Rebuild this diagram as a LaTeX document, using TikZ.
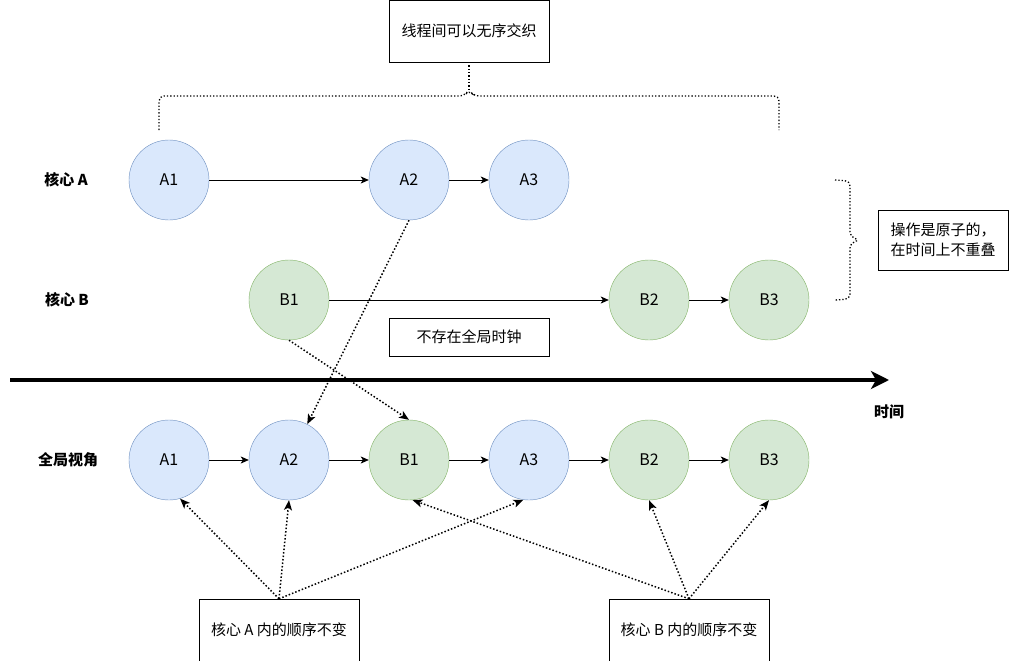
\documentclass[tikz,border=0pt]{standalone}
\usepackage{fontspec}
\setmainfont{Noto Sans CJK SC}
\usetikzlibrary{arrows.meta}
\definecolor{bfill}{HTML}{DAE8FC}
\definecolor{bline}{HTML}{6C8EBF}
\definecolor{gfill}{HTML}{D5E8D4}
\definecolor{gline}{HTML}{82B366}
\tikzset{
  circA/.style={circle, draw=bline, fill=bfill, minimum size=80pt, inner sep=0pt, font=\fontsize{16}{19}\selectfont},
  circB/.style={circle, draw=gline, fill=gfill, minimum size=80pt, inner sep=0pt, font=\fontsize{16}{19}\selectfont},
  tbox/.style={draw, rectangle, inner sep=0pt, font=\fontsize{15}{20}\selectfont, align=left},
  rowlabel/.style={font=\fontsize{15}{18}\selectfont\bfseries},
  seq/.style={-{Stealth[length=8pt,width=7pt,inset=2pt]}, line width=0.8pt},
  dotarrow/.style={dotted, line width=1.5pt, -{Stealth[length=10pt,width=8pt,inset=2.5pt]}},
  dotline/.style={dotted, line width=1.3pt}
}
\begin{document}
\begin{tikzpicture}[x=1pt,y=-1pt]
\useasboundingbox (0,0) rectangle (1010,661);
% top row
\node[circA] (tA1) at (169,180) {A1};
\node[circA] (tA2) at (409,180) {A2};
\node[circA] (tA3) at (529,180) {A3};
\node[circB] (tB1) at (289,300) {B1};
\node[circB] (tB2) at (649,300) {B2};
\node[circB] (tB3) at (769,300) {B3};
% bottom row
\node[circA] (gA1) at (169,460) {A1};
\node[circA] (gA2) at (289,460) {A2};
\node[circB] (gB1) at (409,460) {B1};
\node[circA] (gA3) at (529,460) {A3};
\node[circB] (gB2) at (649,460) {B2};
\node[circB] (gB3) at (769,460) {B3};
% labels
\node[rowlabel] (lA) at (66,180) {核心 A};
\node[rowlabel] (lB) at (67,300) {核心 B};
\node[rowlabel] (lG) at (68,460) {全局视角};
\node[rowlabel] (lT) at (889,412) {时间};
% boxes
\node[tbox, minimum width=160pt, minimum height=62pt] (top) at (469,31) {线程间可以无序交织};
\node[tbox, minimum width=160pt, minimum height=38pt] (clock) at (469,337) {不存在全局时钟};
\node[tbox, minimum width=130pt, minimum height=60pt] (atom) at (943,240) {操作是原子的，\\在时间上不重叠};
\node[tbox, minimum width=160pt, minimum height=62pt] (bA) at (279,630) {核心 A 内的顺序不变};
\node[tbox, minimum width=160pt, minimum height=62pt] (bB) at (689,630) {核心 B 内的顺序不变};
% sequences
\draw[seq] (tA1) -- (tA2);
\draw[seq] (tA2) -- (tA3);
\draw[seq] (tB1) -- (tB2);
\draw[seq] (tB2) -- (tB3);
\draw[seq] (gA1) -- (gA2);
\draw[seq] (gA2) -- (gB1);
\draw[seq] (gB1) -- (gA3);
\draw[seq] (gA3) -- (gB2);
\draw[seq] (gB2) -- (gB3);
% time axis
\coordinate (t0) at (10,380);
\coordinate (t1) at (889,380);
\draw[line width=4pt, -{Stealth[length=18pt,width=18pt,inset=5pt]}] (t0) -- (t1);
% mapping arrows
\draw[dotarrow] (tA2.south) -- (gA2.63);
\draw[dotarrow] (tB1.south) -- (gB1.north);
\draw[dotarrow] (bA.north) -- (gA1.-74);
\draw[dotarrow] (bA.north) -- (gA2.south);
\draw[dotarrow] (bA.north) -- (gA3.-98);
\draw[dotarrow] (bB.north) -- (gB1.-85);
\draw[dotarrow] (bB.north) -- (gB2.south);
\draw[dotarrow] (bB.north) -- (gB3.south);
% top brace
\coordinate (brtip) at (469,90);
\draw[dotline, rounded corners=5pt] (159,130) -- (159,96) -- (464,96) -- (brtip) -- (474,96) -- (779,96) -- (779,130);
\draw[dotline] (top.south) -- (brtip);
% right brace
\coordinate (rbtip) at (860,240);
\draw[dotline, rounded corners=5pt] (835,180) -- (850,181) -- (850,237) -- (rbtip) -- (850,243) -- (850,299) -- (835,300);
\end{tikzpicture}
\end{document}
